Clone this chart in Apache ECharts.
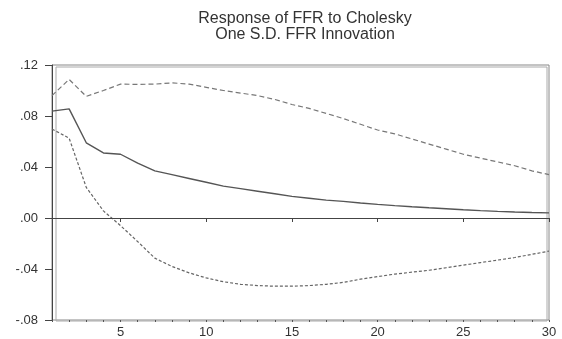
<!DOCTYPE html>
<html>
<head>
<meta charset="utf-8">
<script src="https://cdn.jsdelivr.net/npm/echarts@6/dist/echarts.min.js"></script>
<style>
  html, body { margin: 0; padding: 0; background: #fff; }
  #chart { width: 562px; height: 339px; }
</style>
</head>
<body>
<div id="chart"></div>
<script>
// periods 1..30
const periods = [1, 2, 3, 4, 5, 6, 7, 8, 9, 10, 11, 12, 13, 14, 15,
  16, 17, 18, 19, 20, 21, 22, 23, 24, 25, 26, 27, 28, 29, 30]

// impulse response and +/- 2 S.E. bands
const response = [0.0838, 0.0856, 0.059, 0.051, 0.050, 0.043, 0.037, 0.034, 0.031, 0.028,
  0.025, 0.023, 0.021, 0.019, 0.017, 0.0155, 0.014, 0.013, 0.0118, 0.0107,
  0.0097, 0.0088, 0.008, 0.0073, 0.0065, 0.0058, 0.0052, 0.0047, 0.0043, 0.0040]
const upper = [0.096, 0.1087, 0.0954, 0.100, 0.105, 0.1048, 0.105, 0.106, 0.105, 0.1025,
  0.100, 0.098, 0.096, 0.093, 0.089, 0.086, 0.082, 0.078, 0.0735, 0.069,
  0.066, 0.062, 0.058, 0.054, 0.050, 0.047, 0.044, 0.041, 0.037, 0.034]
const lower = [0.0698, 0.0626, 0.024, 0.0056, -0.006, -0.0185, -0.0315, -0.038, -0.043, -0.047,
  -0.050, -0.052, -0.053, -0.0535, -0.0535, -0.053, -0.052, -0.0505, -0.048, -0.046,
  -0.044, -0.0425, -0.041, -0.039, -0.037, -0.035, -0.033, -0.031, -0.0285, -0.026]

const xLabels = [5, 10, 15, 20, 25, 30]

const pairs = arr => arr.map((v, i) => [periods[i], v])

const chart = echarts.init(document.getElementById('chart'), null, { renderer: 'canvas' })

const font = 'Liberation Sans, Arial, sans-serif'

chart.setOption({
  animation: false,
  backgroundColor: '#fff',
  title: {
    text: 'Response of FFR to Cholesky\nOne S.D. FFR Innovation',
    left: 300,
    textAlign: 'center',
    top: 6,
    textStyle: {
      fontFamily: font,
      fontSize: 16,
      fontWeight: 'normal',
      color: '#333',
      lineHeight: 16
    }
  },
  grid: [
    { left: 52, right: 13, top: 65, bottom: 16, show: true, borderColor: '#888', borderWidth: 1 },
    { left: 56, right: 15, top: 67, bottom: 18, show: true, borderColor: '#aaa', borderWidth: 1 }
  ],
  xAxis: [
    {
      type: 'value', gridIndex: 0, min: 1, max: 30,
      splitLine: { show: false },
      axisLine: { lineStyle: { color: '#444' } },
      axisTick: { show: true, inside: false, length: 4, customValues: xLabels, lineStyle: { color: '#444' } },
      axisLabel: { customValues: xLabels, margin: 6, color: '#333', fontFamily: font, fontSize: 13 }
    },
    {
      type: 'value', gridIndex: 0, min: 1, max: 30, position: 'bottom',
      splitLine: { show: false },
      axisLine: { show: false },
      axisTick: { show: true, length: 2, customValues: periods, lineStyle: { color: '#555' } },
      axisLabel: { show: false }
    },
    { type: 'value', gridIndex: 1, show: false, min: 1, max: 30 }
  ],
  yAxis: [
    {
      type: 'value', gridIndex: 0, min: -0.08, max: 0.12, interval: 0.04,
      splitLine: { show: false },
      axisLine: { show: true, lineStyle: { color: '#444' } },
      axisTick: { show: true, length: 7, lineStyle: { color: '#444' } },
      axisLabel: {
        margin: 14, color: '#333', fontFamily: font, fontSize: 13,
        formatter: v => v.toFixed(2).replace('0.', '.')
      }
    },
    { type: 'value', gridIndex: 1, show: false, min: -0.08, max: 0.12 }
  ],
  series: [
    {
      type: 'line', data: pairs(response), symbol: 'none',
      lineStyle: { color: '#555', width: 1.4 },
      markLine: {
        silent: true, symbol: 'none', label: { show: false },
        lineStyle: { color: '#444', type: 'solid', width: 1.2 },
        data: [{ yAxis: 0 }]
      }
    },
    {
      type: 'line', data: pairs(upper), symbol: 'none',
      lineStyle: { color: '#777', width: 1.2, type: [5, 3] }
    },
    {
      type: 'line', data: pairs(lower), symbol: 'none',
      lineStyle: { color: '#666', width: 1.2, type: [3, 2] }
    }
  ]
})
</script>
</body>
</html>
